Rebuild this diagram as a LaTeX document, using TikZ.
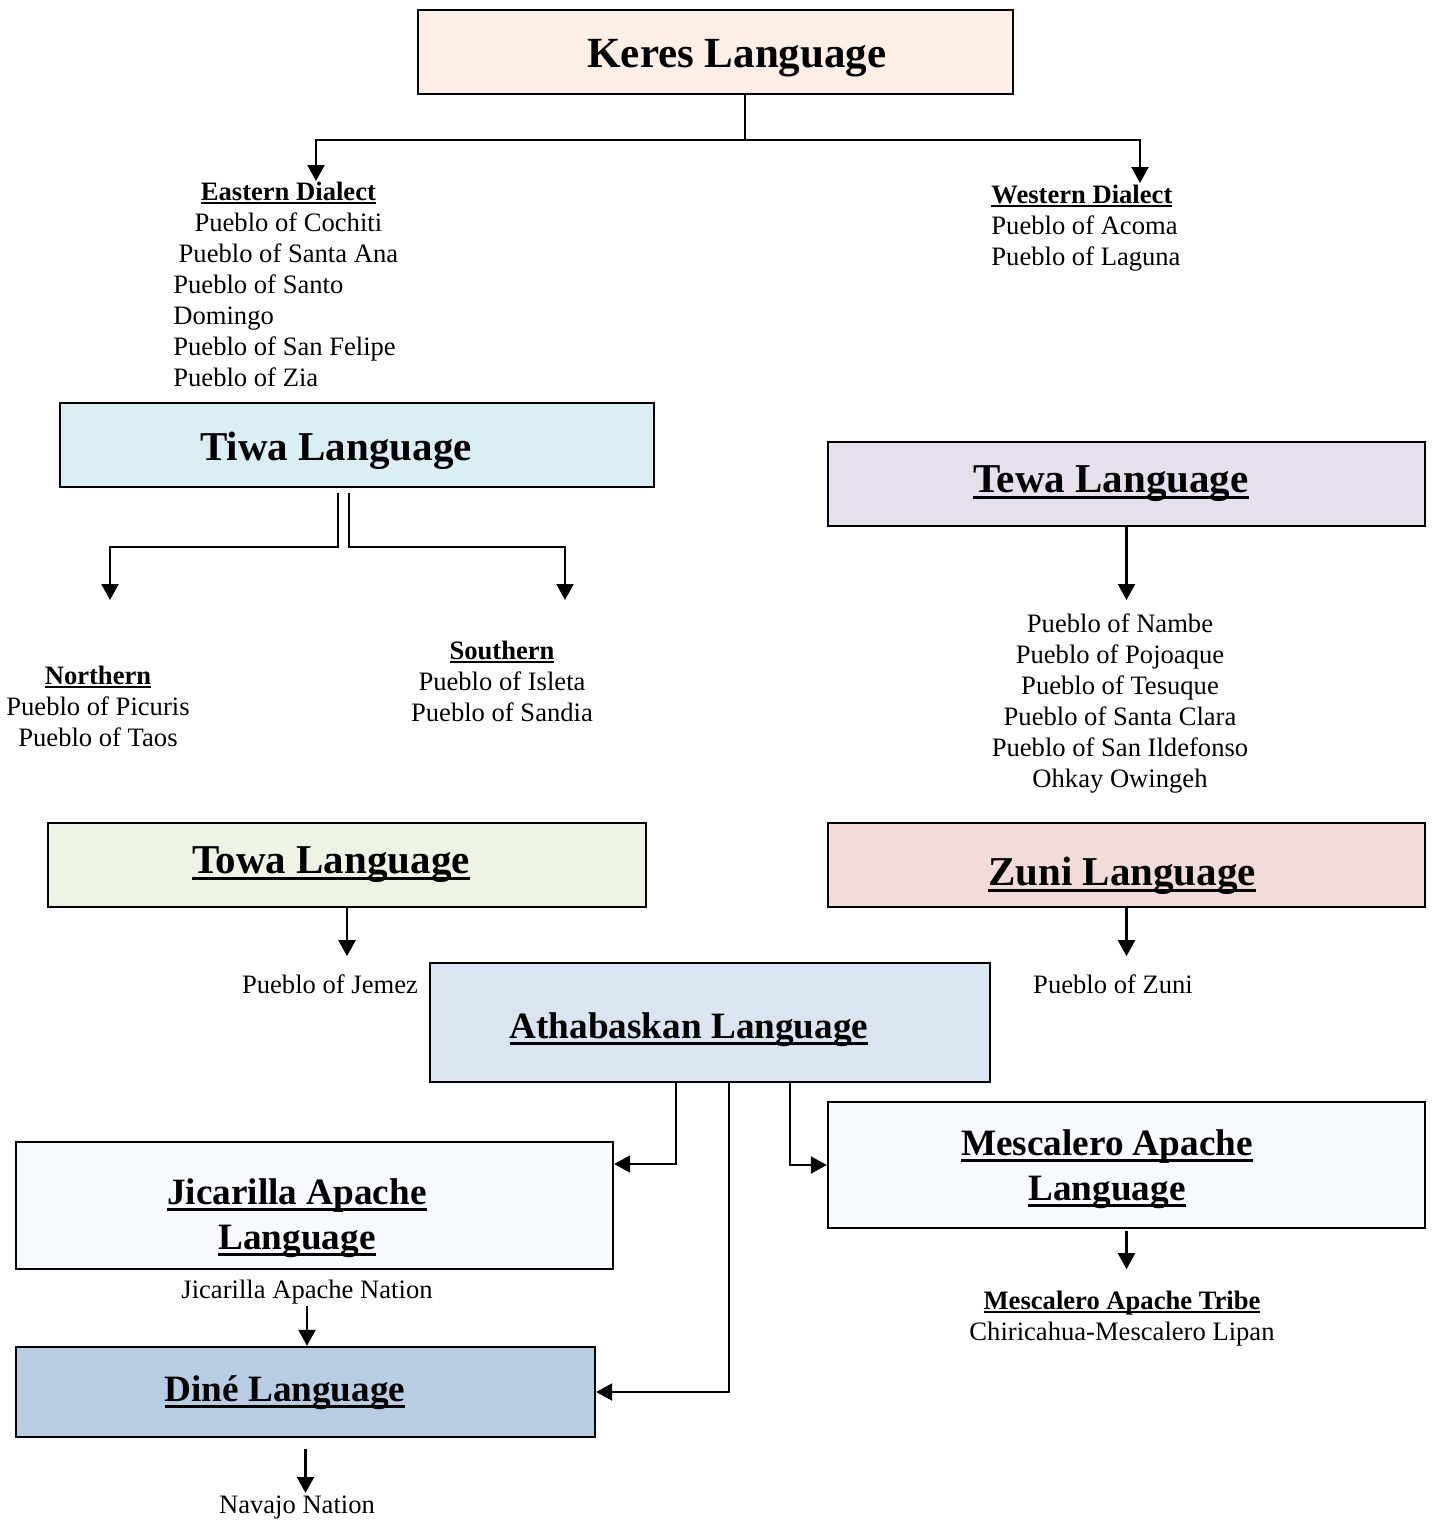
\documentclass[tikz,border=0pt]{standalone}
\usepackage{fontspec}
\setmainfont{Liberation Serif}
\usepackage{xcolor}
\usepackage{tikz}
\usetikzlibrary{arrows.meta,positioning,calc}

\definecolor{keresfill}{RGB}{253,239,229}
\definecolor{tiwafill}{RGB}{218,238,243}
\definecolor{tewafill}{RGB}{229,224,236}
\definecolor{towafill}{RGB}{239,243,230}
\definecolor{zunifill}{RGB}{242,220,219}
\definecolor{athafill}{RGB}{219,229,241}
\definecolor{apachefill}{RGB}{248,249,252}
\definecolor{dinefill}{RGB}{184,204,228}

\newcommand{\ulhead}[1]{\setbox0\hbox{#1}\rlap{\rule[-3.7pt]{\wd0}{1.7pt}}\box0}
\newcommand{\ulsub}[1]{\setbox0\hbox{\textbf{#1}}\rlap{\rule[-2pt]{\wd0}{0.9pt}}\box0}

\begin{document}
\begin{tikzpicture}[x=0.5pt,y=-0.5pt]
  \tikzstyle{langbox}=[draw=black,line width=1.2pt,inner sep=0pt]
  \tikzstyle{bigtitle}=[inner sep=0pt,anchor=base,font=\fontsize{20.5}{24}\selectfont\bfseries]
  \tikzstyle{midtitle}=[inner sep=0pt,anchor=base,align=center,font=\fontsize{18.6}{22.5}\selectfont\bfseries]
  \tikzstyle{pueblos}=[inner sep=1pt,anchor=base,align=center,font=\fontsize{13.3}{15.5}\selectfont]
  \tikzstyle{link}=[line width=1.1pt,-{Triangle[length=8pt,width=8.5pt]}]

  \useasboundingbox (0,0) rectangle (1435,1520);

  % language boxes
  \node (keres) at (715.5,52) [langbox,fill=keresfill,minimum width=297.5pt,minimum height=42pt] {};
  \node (tiwa) at (357,445) [langbox,fill=tiwafill,minimum width=297pt,minimum height=42pt] {};
  \node (tewa) at (1126.5,484) [langbox,fill=tewafill,minimum width=298.5pt,minimum height=42pt] {};
  \node (towa) at (347,865) [langbox,fill=towafill,minimum width=299pt,minimum height=42pt] {};
  \node (zuni) at (1126.5,865) [langbox,fill=zunifill,minimum width=298.5pt,minimum height=42pt] {};
  \node (atha) at (710,1022.5) [langbox,fill=athafill,minimum width=280pt,minimum height=59.5pt] {};
  \node (jica) at (314.5,1205.5) [langbox,fill=apachefill,minimum width=298.5pt,minimum height=63.5pt] {};
  \node (mesc) at (1126.5,1165) [langbox,fill=apachefill,minimum width=298.5pt,minimum height=63pt] {};
  \node (dine) at (305.5,1392) [langbox,fill=dinefill,minimum width=289.5pt,minimum height=45pt] {};

  % titles (base = last line)
  \node (kerestitle) at (737,68) [bigtitle,font=\fontsize{21.5}{25}\selectfont\bfseries] {Keres Language};
  \node (tiwatitle) at (336,460) [bigtitle] {Tiwa Language};
  \node (tewatitle) at (1111,492) [bigtitle] {\ulhead{Tewa Language}};
  \node (towatitle) at (331,873) [bigtitle] {\ulhead{Towa Language}};
  \node (zunititle) at (1122,885) [bigtitle] {\ulhead{Zuni Language}};
  \node (athatitle) at (689,1038) [midtitle] {\ulhead{Athabaskan Language}};
  \node (jicatitle) at (297,1249) [midtitle] {\ulhead{Jicarilla Apache}\\\ulhead{Language}};
  \node (mesctitle) at (1107,1200) [midtitle] {\ulhead{Mescalero Apache}\\\ulhead{Language}};
  \node (dinetitle) at (285,1401) [midtitle] {\ulhead{Diné Language}};

  % pueblos and nations
  \node (eastern) at (173,386) [pueblos,inner sep=0pt,align=left,anchor=base west]
    {\makebox[115pt]{\ulsub{Eastern Dialect}}\\\makebox[115pt]{Pueblo of Cochiti}\\\makebox[115pt]{Pueblo of Santa Ana}\\Pueblo of Santo\\Domingo\\Pueblo of San Felipe\\Pueblo of Zia};
  \node (western) at (991,265) [pueblos,inner sep=0pt,align=left,anchor=base west]
    {\ulsub{Western Dialect}\\Pueblo of Acoma\\Pueblo of Laguna};
  \node (northern) at (98,746) [pueblos] {\ulsub{Northern}\\Pueblo of Picuris\\Pueblo of Taos};
  \node (southern) at (502,721) [pueblos] {\ulsub{Southern}\\Pueblo of Isleta\\Pueblo of Sandia};
  \node (tewalist) at (1120,787) [pueblos]
    {Pueblo of Nambe\\Pueblo of Pojoaque\\Pueblo of Tesuque\\Pueblo of Santa Clara\\Pueblo of San Ildefonso\\Ohkay Owingeh};
  \node (jemez) at (330,993) [pueblos] {Pueblo of Jemez};
  \node (zunipueblo) at (1113,993) [pueblos] {Pueblo of Zuni};
  \node (jicanation) at (307,1298) [pueblos] {Jicarilla Apache Nation};
  \node (mesctribe) at (1122,1340) [pueblos] {\ulsub{Mescalero Apache Tribe}\\Chiricahua-Mescalero Lipan};
  \node (navajo) at (297,1513) [pueblos] {Navajo Nation};

  % turning points
  \coordinate (keresfork) at (745,140);
  \coordinate (eastend) at (316,181);
  \coordinate (westend) at (1140,183);
  \coordinate (tiwaleft) at (338,547);
  \coordinate (tiwaright) at (349,547);
  \coordinate (northend) at (110,600);
  \coordinate (southend) at (565,600);
  \coordinate (tewaend) at (1126.5,600);
  \coordinate (jicaturn) at (676,1164);

  % connectors
  \draw[line width=1.1pt] (keres.south -| keresfork) -- (keresfork);
  \draw[link] (keresfork) -| (eastend);
  \draw[link] (keresfork) -| (westend);
  \draw[link] ([yshift=-2.5pt]tiwa.south -| tiwaleft) -- (tiwaleft) -| (northend);
  \draw[link] ([yshift=-2.5pt]tiwa.south -| tiwaright) -- (tiwaright) -| (southend);
  \draw[link] (tewa.south) -- (tewa.south |- tewaend);
  \draw[link] (towa.south) -- ++(0,48);
  \draw[link] (zuni.south) -- ++(0,48);
  \draw[link] (atha.south -| jicaturn) -- (jicaturn) -- (jicaturn -| jica.east);
  \draw[link] ([xshift=9.5pt]atha.south) |- (dine.east);
  \draw[link] ([xshift=40pt]atha.south) |- (mesc.west);
  \draw[link] ([yshift=-1pt]mesc.south) -- ++(0,38);
  \draw[link] (jicanation.south) -- (jicanation.south |- dine.north);
  \draw[link] ([yshift=-5.5pt]dine.south) -- (dine.south |- navajo.north);
\end{tikzpicture}
\end{document}
